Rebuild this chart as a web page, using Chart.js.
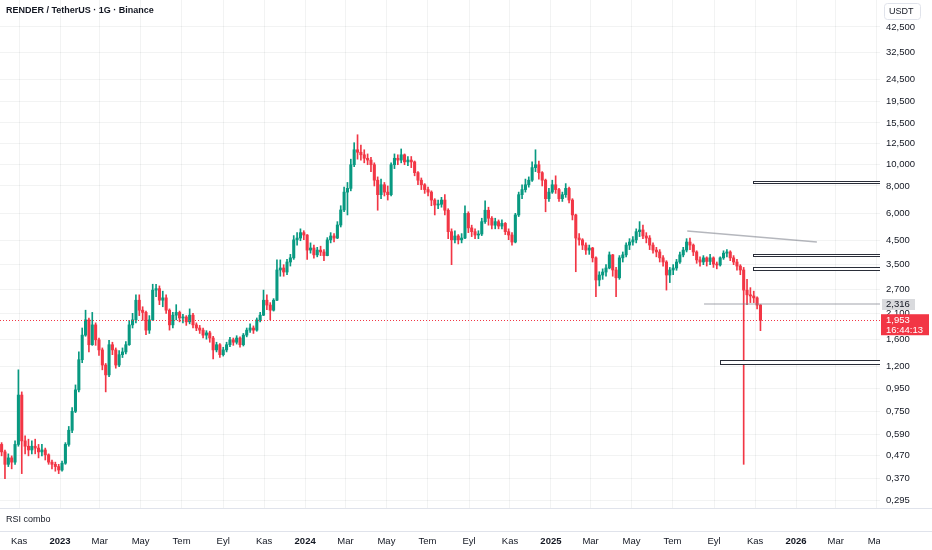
<!DOCTYPE html>
<html>
<head>
<meta charset="utf-8">
<script src="https://cdn.jsdelivr.net/npm/chart.js@4.4.1/dist/chart.umd.min.js"></script>
<style>
  html, body { margin: 0; padding: 0; background: #fff; }
  canvas { display: block; }
</style>
</head>
<body>
<canvas id="chart" width="932" height="550"></canvas>
<script>
// RENDER / USDT, one candle per 5 days
const firstCandle = '2022-10-01';
const stepDays = 5;
const firstOpen = 0.55;

const closes = [
  0.53,0.49,0.43,0.46,0.44,0.53,0.89,0.55,0.52,0.50,
  0.52,0.51,0.49,0.50,0.475,0.44,0.43,0.42,0.405,0.435,
  0.53,0.615,0.75,0.94,1.29,1.67,1.96,1.51,1.86,1.59,
  1.43,1.22,1.10,1.51,1.43,1.22,1.36,1.40,1.51,1.86,
  1.96,2.41,2.17,2.12,1.76,1.96,2.68,2.72,2.41,2.47,
  2.17,1.86,2.06,2.12,2.00,2.02,1.92,2.06,1.86,1.80,
  1.76,1.67,1.71,1.62,1.43,1.51,1.36,1.43,1.51,1.59,
  1.55,1.62,1.51,1.67,1.76,1.80,1.76,1.96,2.06,2.41,
  2.29,2.17,2.41,3.31,3.38,3.24,3.60,3.76,4.54,4.63,
  4.90,4.78,4.08,4.17,3.88,4.08,4.00,3.85,4.54,4.73,
  4.63,5.31,6.22,7.50,7.80,10.0,11.7,11.4,11.1,10.7,
  10.5,10.0,8.5,7.3,8.1,7.5,7.3,10.0,10.7,10.5,
  11.1,10.3,10.5,10.3,9.2,8.5,8.1,7.7,7.5,6.9,
  6.55,6.6,6.9,6.2,4.95,4.54,4.73,4.54,4.63,6.0,
  5.15,4.95,4.78,4.83,5.5,6.2,5.7,5.3,5.5,5.25,
  5.4,4.95,4.78,4.44,5.9,7.3,7.7,8.1,8.5,9.7,
  10.0,9.2,8.5,7.0,7.5,8.1,7.7,7.0,7.3,7.8,
  6.9,5.9,4.63,4.54,4.30,4.08,4.17,3.76,2.98,3.14,
  3.24,3.38,3.88,3.31,3.05,3.76,3.88,4.30,4.44,4.54,
  4.95,5.04,4.73,4.63,4.30,4.08,4.00,3.76,3.60,3.14,
  3.31,3.38,3.60,3.88,4.08,4.44,4.30,4.00,3.68,3.60,
  3.76,3.62,3.76,3.52,3.49,3.76,3.95,4.00,3.76,3.60,
  3.45,3.31,2.68,2.55,2.52,2.47,2.29,1.953
];
const highs = [
  0.56,0.54,0.50,0.48,0.47,0.55,1.16,0.92,0.58,0.56,
  0.55,0.56,0.53,0.53,0.51,0.48,0.45,0.44,0.43,0.445,
  0.54,0.64,0.78,0.99,1.40,1.80,2.17,2.00,2.12,1.90,
  1.62,1.46,1.24,1.58,1.55,1.46,1.42,1.46,1.56,1.95,
  2.10,2.55,2.55,2.25,2.15,2.05,2.85,2.85,2.80,2.65,
  2.55,2.20,2.12,2.30,2.15,2.08,2.05,2.20,2.10,1.90,
  1.85,1.80,1.75,1.74,1.65,1.55,1.53,1.47,1.55,1.63,
  1.62,1.66,1.64,1.70,1.80,1.88,1.84,2.00,2.12,2.68,
  2.55,2.35,2.45,3.68,3.68,3.50,3.70,3.90,4.75,4.90,
  5.10,5.00,4.80,4.40,4.30,4.20,4.25,4.10,4.65,4.90,
  4.85,5.50,6.50,7.90,8.30,10.6,12.6,13.7,12.3,11.7,
  11.2,10.8,10.2,8.8,8.6,8.3,8.0,10.2,11.2,11.1,
  11.8,11.2,10.9,10.9,10.4,9.3,8.7,8.2,7.9,7.6,
  7.0,6.9,7.1,7.3,6.3,5.1,5.0,4.8,4.85,6.5,
  6.1,5.3,5.1,5.0,5.7,6.85,6.4,5.8,5.7,5.6,
  5.6,5.45,5.1,4.9,6.0,7.5,8.1,8.6,8.8,10.3,
  11.7,10.4,9.3,8.6,7.8,8.5,8.9,7.8,7.5,8.2,
  7.9,7.0,5.95,4.85,4.6,4.4,4.3,4.2,3.8,3.25,
  3.35,3.5,4.0,3.9,3.4,3.85,4.0,4.4,4.6,4.7,
  5.1,5.5,5.3,4.9,4.75,4.4,4.2,4.1,3.85,3.65,
  3.4,3.5,3.7,4.0,4.2,4.6,4.63,4.35,4.05,3.8,
  3.85,3.8,3.9,3.8,3.6,3.8,4.05,4.1,4.05,3.85,
  3.7,3.5,3.4,3.0,2.75,2.65,2.5,2.3
];
const lows = [
  0.50,0.47,0.37,0.42,0.41,0.43,0.52,0.39,0.48,0.47,
  0.48,0.48,0.46,0.47,0.45,0.43,0.41,0.40,0.39,0.40,
  0.43,0.52,0.60,0.74,0.92,1.25,1.65,1.40,1.50,1.50,
  1.35,1.16,0.92,1.08,1.36,1.18,1.20,1.32,1.37,1.50,
  1.80,1.90,2.05,1.95,1.68,1.70,1.95,2.50,2.30,2.25,
  2.10,1.76,1.80,1.96,1.92,1.90,1.85,1.88,1.80,1.75,
  1.70,1.62,1.60,1.55,1.30,1.40,1.32,1.34,1.40,1.48,
  1.50,1.52,1.47,1.49,1.64,1.72,1.70,1.74,1.92,2.05,
  2.18,1.96,2.15,2.40,3.10,3.10,3.15,3.45,3.70,4.30,
  4.50,4.55,3.70,3.95,3.75,3.80,3.85,3.65,3.84,4.40,
  4.45,4.60,5.20,6.10,5.90,7.60,9.8,10.6,10.5,10.2,
  10.0,9.3,8.0,6.2,7.0,7.2,6.9,7.2,9.6,10.0,
  10.2,10.0,9.9,9.7,8.9,8.1,7.7,7.4,7.2,6.5,
  5.9,6.3,6.4,5.9,4.6,3.5,4.4,4.35,4.4,4.6,
  4.9,4.7,4.6,4.6,4.75,5.4,5.3,5.1,5.1,5.1,
  5.1,4.8,4.55,4.3,4.4,5.8,7.0,7.5,7.9,8.4,
  9.3,8.6,8.0,6.1,6.8,7.4,7.4,6.8,6.8,7.1,
  6.7,5.6,3.25,4.3,4.1,3.9,3.9,3.6,2.5,2.8,
  3.0,3.1,3.35,3.1,2.5,3.0,3.6,3.8,4.1,4.3,
  4.4,4.7,4.6,4.4,4.1,3.95,3.8,3.6,3.45,2.68,
  2.9,3.15,3.3,3.55,3.8,4.0,4.1,3.85,3.55,3.45,
  3.5,3.45,3.5,3.4,3.35,3.45,3.7,3.8,3.65,3.5,
  3.3,3.15,0.43,2.3,2.35,2.35,2.2,1.75
];

// axis ticks
const priceTicks = [0.295,0.37,0.47,0.59,0.75,0.95,1.2,1.6,2.1,2.7,3.5,4.5,6,8,10,12.5,15.5,19.5,24.5,32.5,42.5];
const tickDates = ['2022-11-01','2023-01-01','2023-03-01','2023-05-01','2023-07-01','2023-09-01','2023-11-01',
  '2024-01-01','2024-03-01','2024-05-01','2024-07-01','2024-09-01','2024-11-01',
  '2025-01-01','2025-03-01','2025-05-01','2025-07-01','2025-09-01','2025-11-01',
  '2026-01-01','2026-03-01','2026-05-01'];
const tickLabels = ['Kas','2023','Mar','May','Tem','Eyl','Kas','2024','Mar','May','Tem','Eyl','Kas',
  '2025','Mar','May','Tem','Eyl','Kas','2026','Mar','May'];

// drawings on the chart
const zones = [
  { from: '2025-10-29', top: 8.46, bottom: 8.23 },
  { from: '2025-10-29', top: 3.93, bottom: 3.82 },
  { from: '2025-10-29', top: 3.42, bottom: 3.31 },
  { from: '2025-09-10', top: 1.29, bottom: 1.23 }
];
const trendLine = { from: '2025-07-23', p1: 4.99, to: '2026-02-01', p2: 4.44 };
const levelLine = { from: '2025-08-17', price: 2.316 };
const countdown = '16:44:13';

const UP = '#089981', DOWN = '#F23645', TEXT = '#131722', GRID = 'rgba(42,46,57,0.06)';
const FONT = '"Liberation Sans", Arial, sans-serif';

function dayOf(s) {
  const [y, m, d] = s.split('-').map(Number);
  return (Date.UTC(y, m - 1, d) - Date.UTC(2023, 0, 1)) / 864e5;
}
function fmt(v) { return v.toFixed(3).replace('.', ','); }

const startDay = dayOf(firstCandle);
const opens = [firstOpen].concat(closes.slice(0, -1));
const candleDays = closes.map((c, i) => startDay + i * stepDays);
const bodies = closes.map((c, i) => ({ x: candleDays[i], y: [opens[i], c] }));
const wicks = closes.map((c, i) => ({ x: candleDays[i], y: [lows[i], highs[i]] }));
const candleColor = ctx => closes[ctx.dataIndex] >= opens[ctx.dataIndex] ? UP : DOWN;
const lastClose = closes[closes.length - 1];

function label(ctx, text, x, y, size, weight, color, align) {
  ctx.font = (weight || 'normal') + ' ' + size + 'px ' + FONT;
  ctx.fillStyle = color || TEXT;
  ctx.textAlign = align || 'left';
  ctx.textBaseline = 'middle';
  ctx.fillText(text, x, y);
}

const overlay = {
  id: 'overlay',
  afterDatasetsDraw(chart) {
    const { ctx, chartArea: a, scales: { x, y } } = chart;
    ctx.save();
    ctx.beginPath();
    ctx.rect(a.left, a.top, a.right - a.left, a.bottom - a.top);
    ctx.clip();

    // trend line
    ctx.strokeStyle = 'rgba(120,123,134,0.55)';
    ctx.lineWidth = 1.5;
    ctx.beginPath();
    ctx.moveTo(x.getPixelForValue(dayOf(trendLine.from)), y.getPixelForValue(trendLine.p1));
    ctx.lineTo(x.getPixelForValue(dayOf(trendLine.to)), y.getPixelForValue(trendLine.p2));
    ctx.stroke();

    // horizontal level
    const ly = Math.round(y.getPixelForValue(levelLine.price));
    ctx.strokeStyle = 'rgba(120,123,134,0.35)';
    ctx.lineWidth = 2;
    ctx.beginPath();
    ctx.moveTo(x.getPixelForValue(dayOf(levelLine.from)), ly);
    ctx.lineTo(a.right, ly);
    ctx.stroke();

    // zones
    ctx.lineWidth = 1;
    zones.forEach(z => {
      const x0 = Math.round(x.getPixelForValue(dayOf(z.from))) + 0.5;
      const y0 = Math.round(y.getPixelForValue(z.top)) + 0.5;
      const y1 = Math.round(y.getPixelForValue(z.bottom)) + 0.5;
      ctx.fillStyle = '#fff';
      ctx.fillRect(x0, y0, a.right - x0, y1 - y0);
      ctx.strokeStyle = '#2a2e39';
      ctx.strokeRect(x0, y0, a.right - x0 + 2, y1 - y0);
    });

    // last price line
    const py = Math.round(y.getPixelForValue(lastClose)) + 0.5;
    ctx.strokeStyle = DOWN;
    ctx.setLineDash([1, 2]);
    ctx.beginPath();
    ctx.moveTo(a.left, py);
    ctx.lineTo(a.right, py);
    ctx.stroke();
    ctx.restore();
  },
  afterDraw(chart) {
    const { ctx, chartArea: a, scales: { y }, width, height } = chart;
    ctx.save();
    // cut x labels under the price scale
    ctx.fillStyle = '#fff';
    ctx.fillRect(a.right, a.bottom + 1, width - a.right, height - a.bottom);

    // pane separators
    ctx.strokeStyle = '#e0e3eb';
    ctx.lineWidth = 1;
    ctx.beginPath();
    ctx.moveTo(0, a.bottom + 0.5); ctx.lineTo(width, a.bottom + 0.5);
    ctx.moveTo(0, a.bottom + 23.5); ctx.lineTo(width, a.bottom + 23.5);
    ctx.stroke();
    label(ctx, 'RSI combo', 6, a.bottom + 12, 9);

    // header
    label(ctx, 'RENDER / TetherUS · 1G · Binance', 6, 11, 9, 'bold');

    // currency box
    ctx.strokeStyle = '#e0e3eb';
    ctx.beginPath();
    ctx.roundRect(884.5, 3.5, 36, 16, 3);
    ctx.stroke();
    label(ctx, 'USDT', 889, 11.5, 9);

    // level label
    const ly = y.getPixelForValue(levelLine.price);
    ctx.fillStyle = '#d9dadd';
    ctx.fillRect(a.right + 2, ly - 5, 33, 11);
    label(ctx, fmt(levelLine.price), a.right + 6, ly + 0.5, 9.5);

    // last price label
    const py = y.getPixelForValue(lastClose);
    ctx.fillStyle = DOWN;
    ctx.fillRect(a.right + 1, py - 6, 48, 21);
    label(ctx, fmt(lastClose), a.right + 6, py, 9.5, 'normal', '#fff');
    label(ctx, countdown, a.right + 6, py + 10, 9.5, 'normal', '#fff');
    ctx.restore();
  }
};

new Chart(document.getElementById('chart'), {
  type: 'bar',
  data: {
    datasets: [
      { label: 'wick', data: wicks, backgroundColor: candleColor, barThickness: 1,
        grouped: false, order: 2, borderWidth: 0 },
      { label: 'body', data: bodies, backgroundColor: candleColor, barThickness: 2.4,
        minBarLength: 1, grouped: false, order: 1, borderWidth: 0 }
    ]
  },
  options: {
    responsive: false,
    animation: false,
    layout: { padding: 0 },
    plugins: { legend: { display: false }, tooltip: { enabled: false } },
    scales: {
      x: {
        type: 'linear',
        position: 'bottom',
        offset: false,
        min: -89.4,
        max: 1221,
        grid: { color: GRID, drawTicks: false, offset: false },
        border: { display: false },
        afterBuildTicks: s => { s.ticks = tickDates.map(d => ({ value: dayOf(d) })); },
        afterFit: s => { s.height = 42; s.paddingLeft = 0; s.paddingRight = 0; },
        ticks: {
          autoSkip: false,
          maxRotation: 0,
          padding: 28,
          color: TEXT,
          font: c => ({ family: FONT, size: 9.5,
            weight: /^\d{4}$/.test(tickLabels[c.index]) ? 'bold' : 'normal' }),
          callback: (v, i) => tickLabels[i]
        }
      },
      y: {
        type: 'logarithmic',
        position: 'right',
        min: 0.2718,
        max: 56.4,
        grid: { color: GRID, drawTicks: false },
        border: { display: false },
        afterBuildTicks: s => { s.ticks = priceTicks.map(v => ({ value: v })); },
        afterFit: s => { s.width = 52; s.paddingTop = 0; s.paddingBottom = 0; },
        ticks: {
          padding: 6,
          color: TEXT,
          font: { family: FONT, size: 9.5 },
          callback: v => fmt(v)
        }
      }
    }
  },
  plugins: [overlay]
});
</script>
</body>
</html>
